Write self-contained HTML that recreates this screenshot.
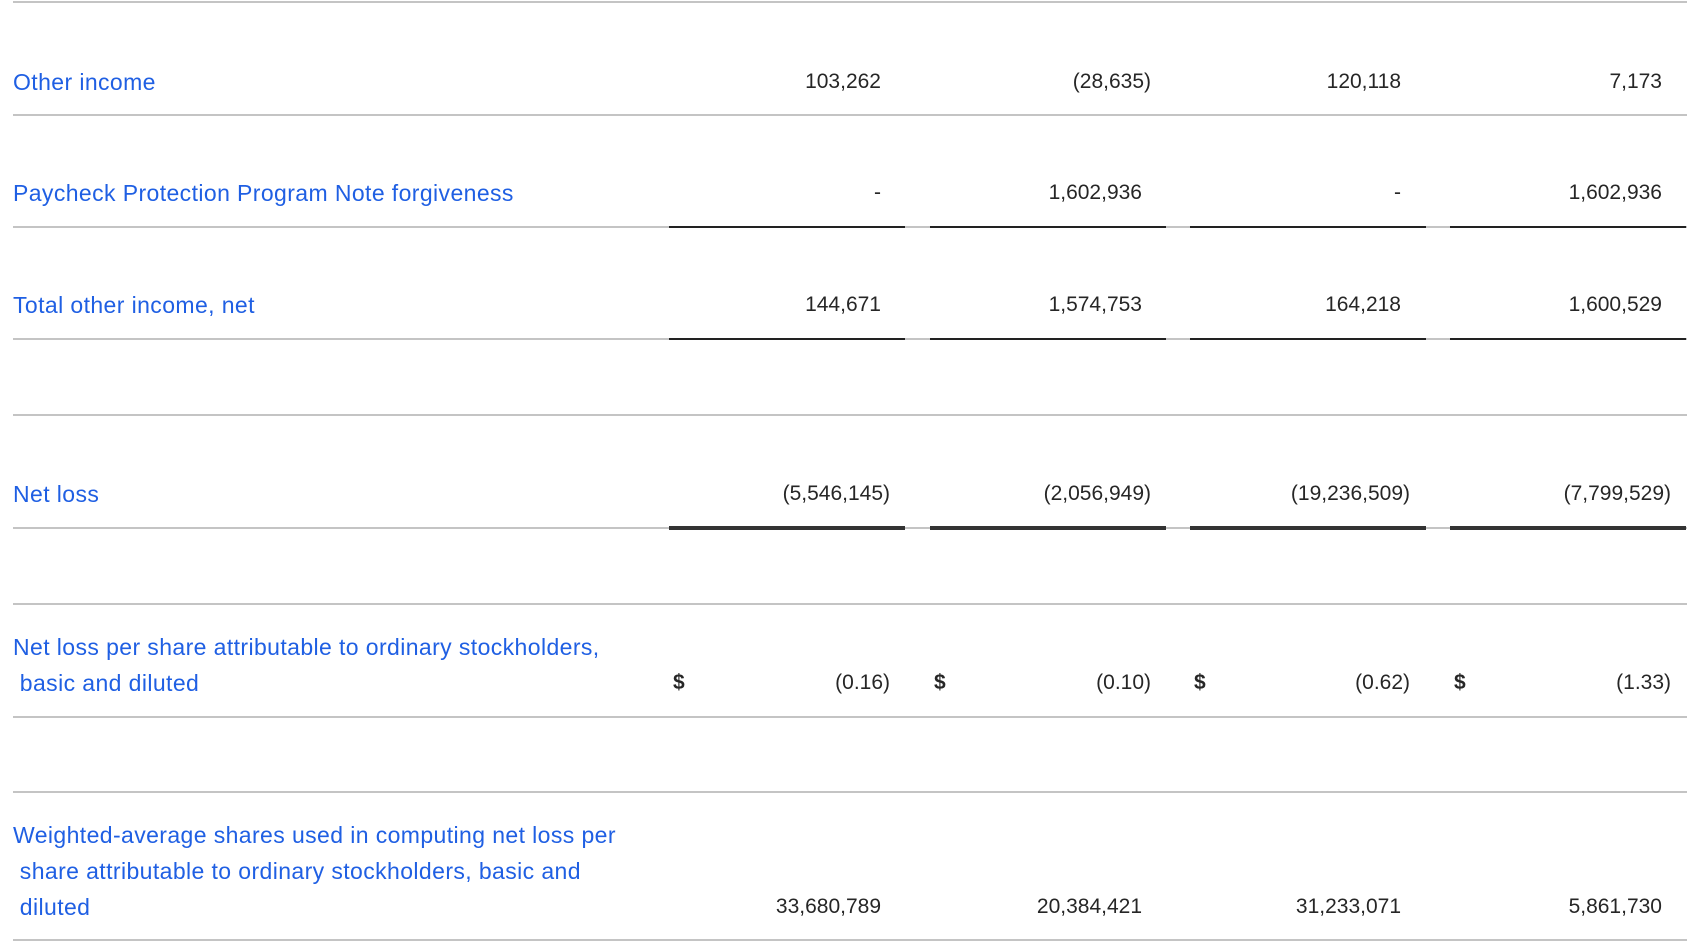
<!DOCTYPE html>
<html><head><meta charset="utf-8"><style>
body{margin:0;width:1702px;height:947px;background:#fff;position:relative;overflow:hidden;font-family:"Liberation Sans",sans-serif;}
.l{position:absolute;left:13px;font-size:23px;letter-spacing:0.4px;color:#1f5fe3;line-height:36px;white-space:nowrap}
.n{position:absolute;font-size:21px;color:#262626;line-height:36px;white-space:nowrap;text-align:right}
.g{position:absolute;left:13px;width:1674px;height:2px;background:#c4c4c4}
.u{position:absolute;height:2px;background:#222}
.d{position:absolute;font-size:21px;color:#262626;line-height:36px;font-weight:bold}
</style></head><body>
<div class="g" style="top:1px"></div>
<div class="l" style="top:64px">Other income</div>
<div class="g" style="top:114px"></div>
<div class="l" style="top:175px">Paycheck Protection Program Note forgiveness</div>
<div class="g" style="top:226px"></div>
<div class="l" style="top:287px">Total other income, net</div>
<div class="g" style="top:338px"></div>
<div class="g" style="top:414px"></div>
<div class="l" style="top:476px">Net loss</div>
<div class="g" style="top:527px"></div>
<div class="g" style="top:603px"></div>
<div class="l" style="top:629px">Net loss per share attributable to ordinary stockholders,<br>&nbsp;basic and diluted</div>
<div class="g" style="top:716px"></div>
<div class="g" style="top:791px"></div>
<div class="l" style="top:817px">Weighted-average shares used in computing net loss per<br>&nbsp;share attributable to ordinary stockholders, basic and<br>&nbsp;diluted</div>
<div class="g" style="top:939px"></div>
<div id="cells"></div>
<script>
const rowTops=[64,175,287,476,665,889];
const values=[
["103,262","(28,635)","120,118","7,173"],
["-","1,602,936","-","1,602,936"],
["144,671","1,574,753","164,218","1,600,529"],
["(5,546,145)","(2,056,949)","(19,236,509)","(7,799,529)"],
["(0.16)","(0.10)","(0.62)","(1.33)"],
["33,680,789","20,384,421","31,233,071","5,861,730"]];
const colRight=[881,1142,1401,1662];
const colLeft=[669,930,1190,1450];
const c=document.getElementById('cells');
values.forEach((row,r)=>row.forEach((v,i)=>{
  const e=document.createElement('div');
  
  
  e.className='n';
  let right=colRight[i];
  if(v.startsWith('('))right+=9;
  e.style.right=(1702-right)+'px';
  e.style.top=rowTops[r]+'px';
  e.textContent=v;c.appendChild(e);
}));
colLeft.forEach(x=>{
  const d=document.createElement('div');
  
  
  d.className='d';d.style.left=(x+4)+'px';d.style.top='665px';d.textContent='$';c.appendChild(d);
  [[226,2],[338,2],[526,4]].forEach(([t,h])=>{
    const u=document.createElement('div');
    
    
    u.className='u';u.style.left=x+'px';u.style.width='236px';u.style.top=t+'px';u.style.height=h+'px';
    if(h>2)u.style.background='#333';
    c.appendChild(u);
  });
});
</script>
</body></html>
